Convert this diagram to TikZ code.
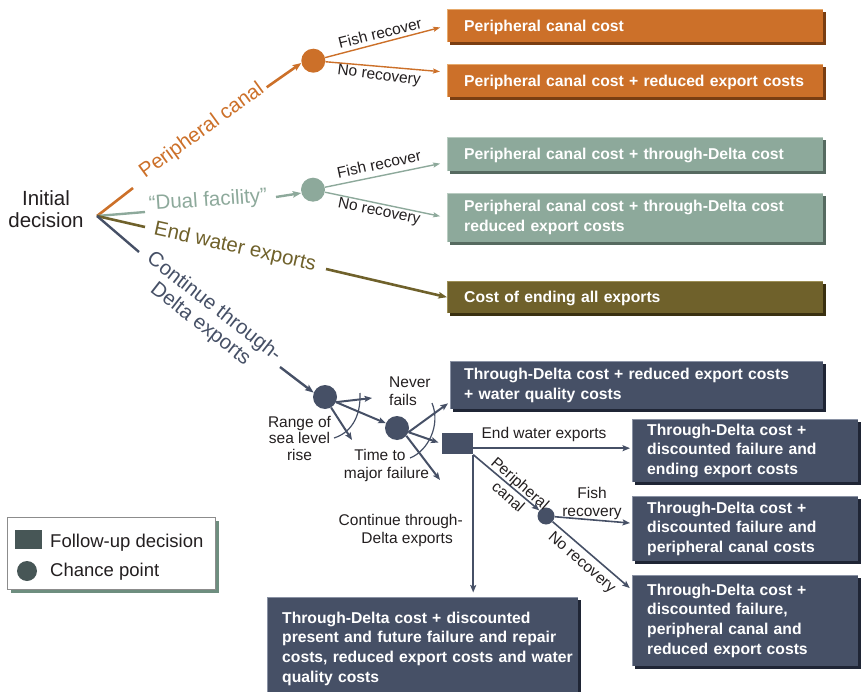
\documentclass[tikz,border=0pt]{standalone}
\usepackage{fontspec}
\setmainfont{Liberation Sans}
\usetikzlibrary{arrows.meta,calc,shadows}
\definecolor{corg}{HTML}{CC7029}
\definecolor{corgsh}{HTML}{7A3E12}
\definecolor{corgl}{HTML}{E6AA6C}
\definecolor{cgrn}{HTML}{8DA99B}
\definecolor{cgrnsh}{HTML}{566A60}
\definecolor{cgrnl}{HTML}{B9CCC1}
\definecolor{colv}{HTML}{6F612B}
\definecolor{colvsh}{HTML}{3A3010}
\definecolor{colvl}{HTML}{9C8E55}
\definecolor{cdk}{HTML}{465066}
\definecolor{cdksh}{HTML}{1F2535}
\definecolor{cdkl}{HTML}{8A92A4}
\definecolor{cleg}{HTML}{475656}
\definecolor{clegsh}{HTML}{6E8E7F}
\definecolor{ctxt}{HTML}{231F20}
\newcommand\fntbig{\fontsize{20.5}{22}\selectfont}
\newcommand\fntbox{\fontsize{15.7}{19.7}\selectfont\bfseries}
\newcommand\fntlab{\fontsize{15.5}{18}\selectfont}
\newcommand\fntrng{\fontsize{15.5}{16.5}\selectfont}
\newcommand\fntleg{\fontsize{18.5}{22}\selectfont}
\newcommand\bevel[2]{\draw[#2,line width=1.2pt] ([xshift=0.6pt]#1.south west) -- ([xshift=0.6pt,yshift=-0.6pt]#1.north west) -- ([yshift=-0.6pt]#1.north east);}
\begin{document}
\begin{tikzpicture}[x=1pt,y=-1pt,
  outbox/.style={anchor=north west, inner ysep=0pt, align=left, text=white, font=\fntbox},
  oneline/.style={text depth=0pt},
  obox/.style={outbox, fill=corg, inner xsep=17pt, drop shadow={shadow xshift=2.5pt,shadow yshift=-2.5pt,fill=corgsh,opacity=1}},
  gbox/.style={outbox, fill=cgrn, inner xsep=17pt, drop shadow={shadow xshift=2.5pt,shadow yshift=-2.5pt,fill=cgrnsh,opacity=1}},
  vbox/.style={outbox, fill=colv, inner xsep=17pt, drop shadow={shadow xshift=2.5pt,shadow yshift=-2.5pt,fill=colvsh,opacity=1}},
  dbox/.style={outbox, fill=cdk, inner xsep=15pt, drop shadow={shadow xshift=2.5pt,shadow yshift=-2.5pt,fill=cdksh,opacity=1}},
  chance/.style={circle, inner sep=0pt, minimum size=24pt},
  arr/.style={-{Stealth[length=8.5pt,width=6.5pt,inset=1.5pt]}},
  arrs/.style={-{Stealth[length=7pt,width=5pt,inset=1.2pt]}},
  arrd/.style={-{Stealth[length=7.5pt,width=6pt,inset=1.5pt]}},
  lab/.style={font=\fntlab, text=ctxt, inner sep=0pt},
  big/.style={font=\fntbig}
]
\useasboundingbox (0,0) rectangle (861,692);
\clip (0,0) rectangle (861,692);

% outcome boxes
\node[obox, oneline, text width=342pt, minimum height=33pt] (B1) at (447,9) {Peripheral canal cost};
\node[obox, oneline, text width=342pt, minimum height=33pt] (B2) at (447,64) {\mbox{Peripheral canal cost + reduced export costs}};
\node[gbox, oneline, text width=342pt, minimum height=34pt] (B3) at (447,137) {Peripheral canal cost + through-Delta cost};
\node[gbox, text width=342pt, minimum height=49pt] (B4) at (447,193) {Peripheral canal cost + through-Delta cost\\reduced export costs};
\node[vbox, oneline, text width=342pt, minimum height=32pt] (B5) at (447,281) {Cost of ending all exports};
\node[dbox, inner xsep=14pt, text width=345pt, minimum height=48pt] (B6) at (450,361) {Through-Delta cost + reduced export costs\\+ water quality costs};
\node[dbox, text width=196pt, minimum height=63pt] (B7) at (632,419) {Through-Delta cost +\\discounted failure and\\ending export costs};
\node[dbox, text width=196pt, minimum height=65pt] (B8) at (632,496) {Through-Delta cost +\\discounted failure and\\peripheral canal costs};
\node[dbox, text width=196pt, minimum height=91pt] (B9) at (632,575) {Through-Delta cost +\\discounted failure,\\peripheral canal and\\reduced export costs};
\node[dbox, text width=281pt, minimum height=103pt] (B10) at (267,597) {\mbox{Through-Delta cost + discounted}\\\mbox{present and future failure and repair}\\\mbox{costs, reduced export costs and water}\\quality costs};
\bevel{B1}{corgl}
\bevel{B2}{corgl}
\bevel{B3}{cgrnl}
\bevel{B4}{cgrnl}
\bevel{B5}{colvl}
\bevel{B6}{cdkl}
\bevel{B7}{cdkl}
\bevel{B8}{cdkl}
\bevel{B9}{cdkl}
\bevel{B10}{cdkl}

% decision text and chance points
\node[big, text=ctxt, align=center] (init) at (46,209) {Initial\\decision};
\coordinate (o) at (97,216);
\node[chance, fill=corg] (c1) at (313.3,60.7) {};
\node[chance, fill=cgrn] (c2) at (313,189.7) {};
\node[chance, fill=cdk] (n1) at (325,397) {};
\node[chance, fill=cdk] (n2) at (397,428) {};
\node[fill=cdk, inner sep=0pt, minimum width=31pt, minimum height=21.5pt] (sq) at (457.5,443.7) {};
\node[chance, fill=cdk, minimum size=17pt] (c3) at (546,516) {};

% orange branch
\coordinate (pa) at (133,188);
\coordinate (pb) at (266.7,87.3);
\draw[corg, line width=2.6pt] (o) -- (pa);
\draw[corg, line width=2.6pt, arr] (pb) -- (c1.191);
\draw[corg, line width=1.4pt, arrs, shorten >=7pt] (c1) -- (B1.west);
\draw[corg, line width=1.4pt, arrs, shorten >=7pt] (c1) -- ($(B2.west)+(0,-8.5)$);

% green branch
\coordinate (ga) at (145,212);
\coordinate (gb) at (276,197);
\draw[cgrn, line width=2.4pt] (o) -- (ga);
\draw[cgrn, line width=2.4pt, arr] (gb) -- (c2.196);
\draw[cgrn, line width=1.4pt, arrs, shorten >=7pt] (c2) -- ($(B3.west)+(0,8)$);
\draw[cgrn, line width=1.4pt, arrs, shorten >=7pt] (c2) -- (B4.west);

% olive branch
\coordinate (va) at (145,227);
\coordinate (vb) at (326,269);
\draw[colv, line width=2.6pt] (o) -- (va);
\draw[colv, line width=2.6pt, arr] (vb) -- (B5.west);

% dark branch
\coordinate (da) at (139,252);
\coordinate (db) at (280,367);
\draw[cdk, line width=2.4pt] (o) -- (da);
\draw[cdk, line width=2.4pt, arr] (db) -- (n1.159);

\coordinate (f1) at (372,398);
\coordinate (f2) at (352,440);
\coordinate (f3) at (440,480);
\draw[cdk, line width=2pt, arrd] (n1.-25) -- (f1);
\draw[cdk, line width=2pt, arrd] (n1.-25) -- (n2);
\draw[cdk, line width=2pt, arrd] (n1.-60) -- (f2);
\draw[cdk, line width=1.2pt] (360,393) .. controls (361,418) and (350,433) .. (334,438);
\draw[cdk, line width=2pt, arrd] (n2.-20) -- ($(B6.south west)+(-2,-6)$);
\draw[cdk, line width=2pt, arrd, shorten >=3.5pt] (n2.-20) -- (sq.west);
\draw[cdk, line width=2pt, arrd] (n2.-40) -- (f3);
\draw[cdk, line width=1.2pt] (432,403) .. controls (441,425) and (428,451) .. (410,458);

\coordinate (sqe) at ($(sq.east)+(0,4.5)$);
\draw[cdk, line width=1.6pt, arrd, shorten >=2pt] (sqe) -- (sqe -| B7.west);
\draw[cdk, line width=1.6pt, arrd] (sq.south east) -- (c3);
\draw[cdk, line width=1.6pt, arrd, shorten >=4.5pt] (sq.south east) -- (sq.south east |- B10.north);
\draw[cdk, line width=1.6pt, arrd, shorten >=2pt] (c3) -- ($(B8.west)+(0,-5.5)$);
\draw[cdk, line width=1.6pt, arrd, shorten >=3pt] (c3) -- ($(B9.north west)+(0,15)$);

% branch labels
\node[big, text=corg, rotate=36] (lpc) at (202,131) {Peripheral canal};
\node[big, text=cgrn, rotate=4] (ldf) at (208,201) {“Dual facility”};
\node[big, text=colv, rotate=-12.5] (lew) at (235,247.5) {End water exports};
\node[big, text=cdk, rotate=-38, align=center] (lct) at (207,316) {Continue through-\\Delta exports};
\node[lab, rotate=14] (lf1) at (380,33) {Fish recover};
\node[lab, rotate=-7] (ln1) at (379,76) {No recovery};
\node[lab, rotate=12] (lf2) at (379,164) {Fish recover};
\node[lab, rotate=-11] (ln2) at (379,212) {No recovery};
\node[lab, font=\fntrng, align=center] (lrs) at (299.5,438) {Range of\\sea level\\rise};
\node[lab, align=left, anchor=west] (lnf) at (389,391.5) {Never\\fails};
\node[lab, align=center] (ltm) at (386.5,465) {Time to\hspace*{13pt}\\major failure};
\node[lab] (lew2) at (544,434.5) {End water exports};
\node[lab, rotate=-41, align=center] (lpc2) at (514.5,490) {Peripheral\\canal};
\node[lab, align=center] (lfr) at (592,503) {Fish\\recovery};
\node[lab, rotate=-41] (lnr) at (581.5,563) {No recovery};
\node[lab, align=right, anchor=east] (lcd) at (463,530.5) {Continue through-\\Delta exports\hspace*{10pt}};

% legend
\node[draw=black!45, line width=0.8pt, fill=white, anchor=north west, minimum width=208pt, minimum height=72pt, inner sep=0pt,
  drop shadow={shadow xshift=4pt,shadow yshift=-4pt,fill=clegsh,opacity=1}] (leg) at (7,517) {};
\node[fill=cleg, inner sep=0pt, minimum width=27pt, minimum height=19pt] (lsq) at (28.5,539.5) {};
\node[circle, fill=cleg, inner sep=0pt, minimum size=20pt] (lci) at (27,571) {};
\node[font=\fntleg, text=ctxt, anchor=base west, inner sep=0pt] (lt1) at (50,547) {Follow-up decision};
\node[font=\fntleg, text=ctxt, anchor=base west, inner sep=0pt] (lt2) at (50,576) {Chance point};
\end{tikzpicture}
\end{document}
